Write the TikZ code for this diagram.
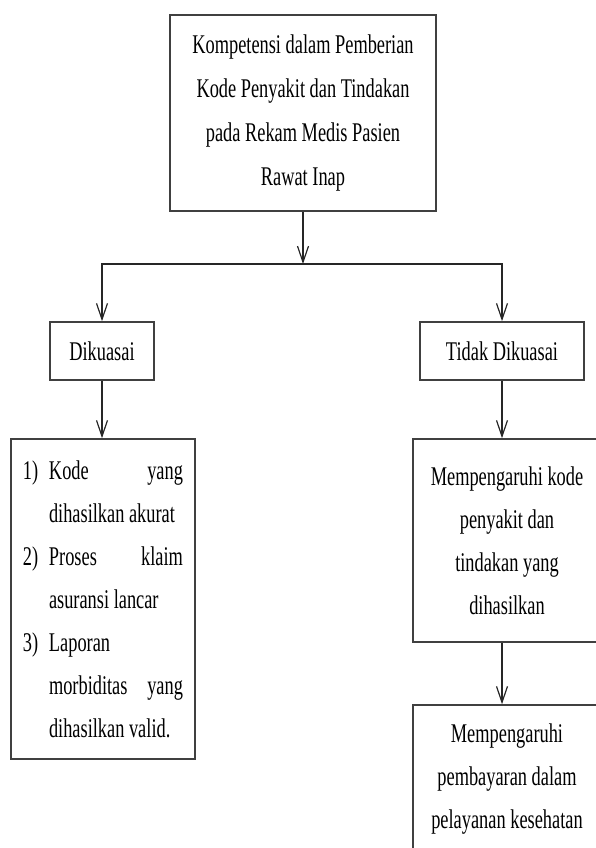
\documentclass[tikz,border=0pt]{standalone}
\usepackage{fontspec}
\setmainfont{Liberation Serif}[FakeStretch=0.68]
\usetikzlibrary{arrows.meta}

\def\itm#1#2{\hangindent=26pt\hangafter=1\noindent\makebox[26pt][l]{#1)}#2\par}

\begin{document}
\begin{tikzpicture}[x=1pt,y=-1pt,
  box/.style={draw=black!75, line width=1.6pt, align=center, inner sep=0pt,
    font=\fontsize{27}{43}\selectfont},
  arr/.style={draw=black!85, line width=1.2pt,
    -{Straight Barb[length=16pt,width=11pt,line width=1.2pt]}}]
\useasboundingbox (0,0) rectangle (596,848);
\clip (0,0) rectangle (596,848);

\node[box, minimum width=266pt, minimum height=196pt,
  font=\fontsize{27}{44}\selectfont] (K) at (303,113)
  {Kompetensi dalam Pemberian\\Kode Penyakit dan Tindakan\\pada Rekam Medis Pasien\\Rawat Inap};
\coordinate (s) at (303,264);

\node[box, minimum width=104pt, minimum height=58pt] (D) at (102,351) {Dikuasai};
\node[box, minimum width=164pt, minimum height=58pt] (T) at (502,351) {Tidak Dikuasai};

\node[box, minimum width=184pt, minimum height=320pt, text width=160pt, align=justify] (L) at (103,599)
  {\hyphenpenalty=10000 \tolerance=10000
   \itm{1}{Kode yang dihasilkan akurat}
   \itm{2}{Proses klaim asuransi lancar}
   \itm{3}{Laporan morbiditas yang dihasilkan valid.}};

\node[box, minimum width=188pt, minimum height=203pt] (M) at (507,540.5)
  {Mempengaruhi kode\\penyakit dan\\tindakan yang\\dihasilkan};
\node[box, minimum width=188pt, minimum height=149pt] (N) at (507,779.5)
  {Mempengaruhi\\pembayaran dalam\\pelayanan kesehatan};

\draw[arr] (K) -- (s);
\draw[arr] (s) -| (D);
\draw[arr] (s) -| (T);
\draw[arr] (D) -- (D |- L.north);
\draw[arr] (T) -- (T |- M.north);
\draw[arr] (M.south -| T) -- (N.north -| T);
\end{tikzpicture}
\end{document}
